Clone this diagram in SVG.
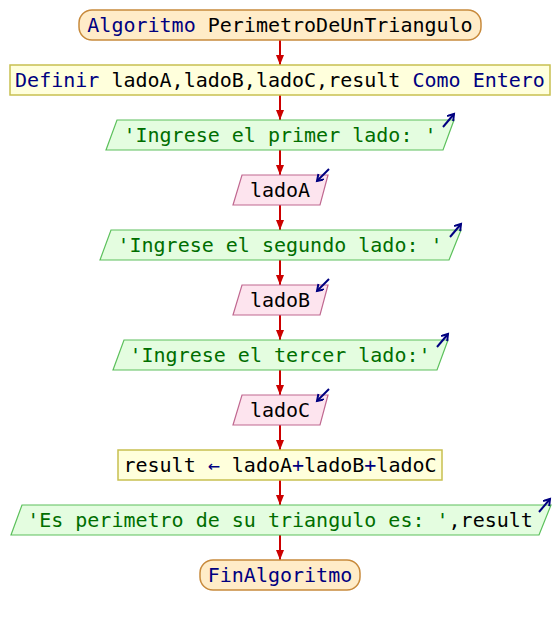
<svg xmlns="http://www.w3.org/2000/svg" width="560" height="625" viewBox="0 0 560 625">
  <defs>
    <style>
      text { font-family: "DejaVu Sans Mono", "Liberation Mono", monospace; font-size: 20px; text-anchor: middle; fill: #000000; }
      .kw { fill: #000080; }
      .str { fill: #006e00; }
      .op { fill: #000080; }
      .term { fill: #ffecc8; stroke: #c88a3c; stroke-width: 1.5; }
      .proc { fill: #ffffdc; stroke: #c8c050; stroke-width: 1.5; }
      .out { fill: #e4fde0; stroke: #5cc05c; stroke-width: 1.2; }
      .in { fill: #fde4ee; stroke: #c06890; stroke-width: 1.2; }
      .flow { stroke: #cc0000; stroke-width: 2; fill: none; }
      .io { stroke: #000080; stroke-width: 2; fill: none; }
    </style>
    <marker id="head" markerUnits="userSpaceOnUse" markerWidth="12" markerHeight="8" refX="10" refY="4" orient="auto">
      <path d="M0,0 L10,4 L0,8 Z" fill="#cc0000"/>
    </marker>
    <marker id="ioHead" markerUnits="userSpaceOnUse" markerWidth="10" markerHeight="10" refX="7" refY="4" orient="auto">
      <path d="M1,0 L7,4 L1,8" fill="none" stroke="#000080" stroke-width="2"/>
    </marker>
  </defs>

  <g id="connectors">
    <line class="flow" x1="280" y1="40" x2="280" y2="65" marker-end="url(#head)"/>
    <line class="flow" x1="280" y1="95" x2="280" y2="120" marker-end="url(#head)"/>
    <line class="flow" x1="280" y1="150" x2="280" y2="175" marker-end="url(#head)"/>
    <line class="flow" x1="280" y1="205" x2="280" y2="230" marker-end="url(#head)"/>
    <line class="flow" x1="280" y1="260" x2="280" y2="285" marker-end="url(#head)"/>
    <line class="flow" x1="280" y1="315" x2="280" y2="340" marker-end="url(#head)"/>
    <line class="flow" x1="280" y1="370" x2="280" y2="395" marker-end="url(#head)"/>
    <line class="flow" x1="280" y1="425" x2="280" y2="450" marker-end="url(#head)"/>
    <line class="flow" x1="280" y1="480" x2="280" y2="505" marker-end="url(#head)"/>
    <line class="flow" x1="280" y1="535" x2="280" y2="560" marker-end="url(#head)"/>
  </g>

  <g id="start">
    <rect class="term" x="79" y="10" width="402" height="30" rx="13"/>
    <text x="280" y="32"><tspan class="kw">Algoritmo</tspan> PerimetroDeUnTriangulo</text>
  </g>

  <g id="define">
    <rect class="proc" x="10" y="65" width="540" height="30"/>
    <text x="280" y="87"><tspan class="kw">Definir</tspan> ladoA,ladoB,ladoC,result <tspan class="kw">Como Entero</tspan></text>
  </g>

  <g id="write1">
    <polygon class="out" points="117,120 454,120 443,150 106,150"/>
    <text x="280" y="142" class="str">'Ingrese el primer lado: '</text>
    <line class="io" x1="443" y1="127" x2="454" y2="114" marker-end="url(#ioHead)"/>
  </g>

  <g id="readA">
    <polygon class="in" points="242,175 328,175 320,205 233,205"/>
    <text x="280" y="197">ladoA</text>
    <line class="io" x1="329" y1="169" x2="317" y2="181" marker-end="url(#ioHead)"/>
  </g>

  <g id="write2">
    <polygon class="out" points="111,230 461,230 449,260 100,260"/>
    <text x="280" y="252" class="str">'Ingrese el segundo lado: '</text>
    <line class="io" x1="450" y1="237" x2="461" y2="224" marker-end="url(#ioHead)"/>
  </g>

  <g id="readB">
    <polygon class="in" points="242,285 328,285 320,315 233,315"/>
    <text x="280" y="307">ladoB</text>
    <line class="io" x1="329" y1="279" x2="317" y2="291" marker-end="url(#ioHead)"/>
  </g>

  <g id="write3">
    <polygon class="out" points="124,340 448,340 437,370 113,370"/>
    <text x="280" y="362" class="str">'Ingrese el tercer lado:'</text>
    <line class="io" x1="437" y1="347" x2="448" y2="334" marker-end="url(#ioHead)"/>
  </g>

  <g id="readC">
    <polygon class="in" points="242,395 328,395 320,425 233,425"/>
    <text x="280" y="417">ladoC</text>
    <line class="io" x1="329" y1="389" x2="317" y2="401" marker-end="url(#ioHead)"/>
  </g>

  <g id="assign">
    <rect class="proc" x="118" y="450" width="324" height="30"/>
    <text x="280" y="472">result <tspan class="op">←</tspan> ladoA<tspan class="op">+</tspan>ladoB<tspan class="op">+</tspan>ladoC</text>
  </g>

  <g id="write4">
    <polygon class="out" points="22,505 551,505 539,535 11,535"/>
    <text x="280" y="527"><tspan class="str">'Es perimetro de su triangulo es: '</tspan>,result</text>
    <line class="io" x1="539" y1="512" x2="550" y2="499" marker-end="url(#ioHead)"/>
  </g>

  <g id="end">
    <rect class="term" x="200" y="560" width="160" height="30" rx="13"/>
    <text x="280" y="582" class="kw">FinAlgoritmo</text>
  </g>
</svg>
